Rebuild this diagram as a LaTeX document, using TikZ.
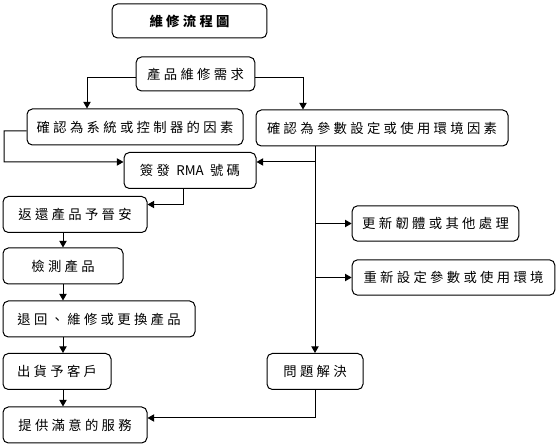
\documentclass[tikz,border=0pt]{standalone}
\usepackage{fontspec}
\usepackage{tikz}
\usetikzlibrary{arrows.meta,positioning}
\newfontfamily\cjk[LetterSpace=25]{Noto Sans CJK TC}
\newfontfamily\cjktight{Noto Sans CJK TC}

\begin{document}
\begin{tikzpicture}[
    x=0.75pt, y=-0.75pt,
    box/.style={rectangle, rounded corners=4pt, draw, line width=0.75pt, align=center, inner sep=0pt, font=\cjk\fontsize{10}{12}\selectfont},
    arrow/.style={-{Triangle[length=5pt,width=5.5pt]}, line width=0.75pt}
]
    \useasboundingbox (0,0) rectangle (560,448);

    \node[box, minimum width=116pt, minimum height=25.5pt, font=\cjk\bfseries\fontsize{10}{12}\selectfont] (title) at (189.5,21) {維修流程圖};

    \node[box, minimum width=89pt, minimum height=25.5pt] (need) at (195.5,74) {產品維修需求};
    \node[box, minimum width=162pt, minimum height=27pt] (sys) at (135,127) {確認為系統或控制器的因素};
    \node[box, minimum width=189pt, minimum height=27pt] (env) at (382,128) {確認為參數設定或使用環境因素};
    \node[box, minimum width=99pt, minimum height=27pt] (rma) at (190,170.5) {簽發 {\cjktight RMA} 號碼};
    \node[box, minimum width=125pt, minimum height=26.5pt] (fw) at (435.5,223.5) {更新韌體或其他處理};
    \node[box, minimum width=152pt, minimum height=26.5pt] (reset) at (453.5,277.5) {重新設定參數或使用環境};

    \node[box, minimum width=108pt, minimum height=27pt] (ret) at (75,214.5) {返還產品予晉安};
    \node[box, minimum width=90pt, minimum height=27pt] (test) at (63,266) {檢測產品};
    \node[box, minimum width=144pt, minimum height=27pt] (fix) at (99,319) {退回、維修或更換產品};
    \node[box, minimum width=81pt, minimum height=27pt] (ship) at (57,371.5) {出貨予客戶};
    \node[box, minimum width=108pt, minimum height=27pt] (serve) at (75,425) {提供滿意的服務};
    \node[box, minimum width=72pt, minimum height=27pt] (solve) at (315,371.5) {問題解決};

    % top split
    \draw[arrow] ([yshift=-3pt]need.west) -| ([xshift=-36pt]sys.north);
    \draw[arrow] ([yshift=-3pt]need.east) -| ([xshift=-59.25pt]env.north);

    % left branch
    \draw[arrow] ([yshift=-3pt]sys.west) -| (4,162) -- ([yshift=6.4pt]rma.west);
    \draw[arrow] ([xshift=-5.25pt]rma.south) |- ([yshift=7.5pt]ret.east);
    \draw[arrow] (ret.south -| test.north) -- (test.north);
    \draw[arrow] (test.south) -- (fix.north -| test.south);
    \draw[arrow] (fix.south -| test.south) -- (ship.north -| test.south);
    \draw[arrow] (ship.south -| test.south) -- (serve.north -| test.south);

    % right branch
    \draw[arrow] (solve.north |- env.south) -- (solve.north);
    \draw[arrow] ([yshift=6.4pt]rma.east -| solve.north) -- ([yshift=6.4pt]rma.east);
    \draw[arrow] (solve.north |- fw.west) -- (fw.west);
    \draw[arrow] (solve.north |- reset.west) -- (reset.west);
    \draw[arrow] (solve.south) |- ([yshift=5.25pt]serve.east);
\end{tikzpicture}
\end{document}
